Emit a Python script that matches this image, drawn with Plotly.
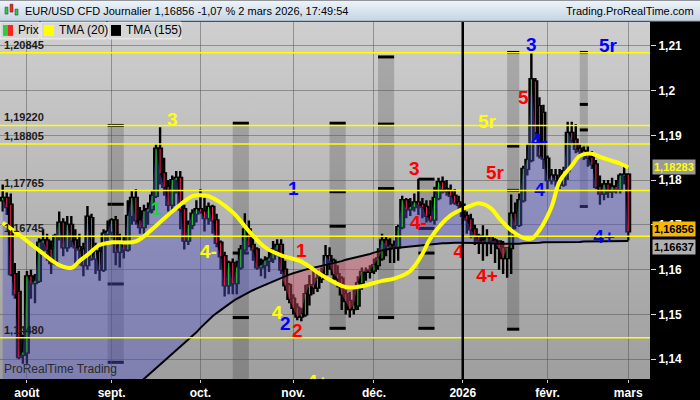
import base64
import numpy as np
import pandas as pd
import plotly.graph_objects as go

# daily sessions shown on the chart (no candle on 25 Dec and 1 Jan)
dates = [d.strftime("%Y-%m-%d") for d in pd.bdate_range("2025-07-24", "2026-03-02")
         if d.strftime("%m-%d") not in ("12-25", "01-01")]

opens = [
    1.1755, 1.1760, 1.1745, 1.1590, 1.1550, 1.1410,
    1.1415, 1.1585, 1.1570, 1.1575, 1.1660, 1.1665, 1.1645, 1.1615, 1.1675, 1.1705, 1.1650,
    1.1700, 1.1665, 1.1650, 1.1645, 1.1610, 1.1715, 1.1625, 1.1640, 1.1600, 1.1680,
    1.1685, 1.1710, 1.1640, 1.1660, 1.1645, 1.1720, 1.1760, 1.1710, 1.1695, 1.1730, 1.1735,
    1.1765, 1.1870, 1.1815, 1.1785, 1.1745, 1.1800, 1.1805, 1.1735, 1.1665, 1.1700, 1.1725,
    1.1735, 1.1730, 1.1715, 1.1740, 1.1710, 1.1660, 1.1630, 1.1565, 1.1615, 1.1570, 1.1605,
    1.1645, 1.1690, 1.1655, 1.1645, 1.1605, 1.1610, 1.1620, 1.1625, 1.1645, 1.1655, 1.1600, 1.1565,
    1.1535, 1.1515, 1.1495, 1.1500, 1.1545, 1.1565, 1.1560, 1.1580, 1.1590, 1.1630,
    1.1620, 1.1590, 1.1580, 1.1545, 1.1530, 1.1512, 1.1520, 1.1570, 1.1595, 1.1595,
    1.1598, 1.1610, 1.1625, 1.1665, 1.1655, 1.1652, 1.1650, 1.1695, 1.1755, 1.1735, 1.1740,
    1.1750, 1.1745, 1.1740, 1.1720, 1.1712, 1.1760, 1.1795, 1.1780, 1.1775, 1.1765, 1.1750,
    1.1745, 1.1720, 1.1712, 1.1690, 1.1675, 1.1665, 1.1662, 1.1672, 1.1665, 1.1663, 1.1648,
    1.1626, 1.1648, 1.1725, 1.1700, 1.1755, 1.1825, 1.1845, 1.2020, 1.1965, 1.1950,
    1.1848, 1.1800, 1.1810, 1.1800, 1.1790, 1.1820, 1.1905, 1.1890, 1.1870, 1.1865,
    1.1860, 1.1850, 1.1835, 1.1785, 1.1770, 1.1790, 1.1775, 1.1785, 1.1780, 1.1810,
    1.1812,
]
highs = [
    1.1790, 1.1772, 1.1770, 1.1615, 1.1597, 1.1455,
    1.1597, 1.1600, 1.1590, 1.1670, 1.1690, 1.1680, 1.1665, 1.1680, 1.1730, 1.1715, 1.1720,
    1.1720, 1.1690, 1.1680, 1.1660, 1.1742, 1.1725, 1.1660, 1.1655, 1.1690, 1.1710,
    1.1715, 1.1720, 1.1680, 1.1675, 1.1755, 1.1777, 1.1780, 1.1740, 1.1745, 1.1750, 1.1775,
    1.1880, 1.1918, 1.1850, 1.1800, 1.1810, 1.1820, 1.1820, 1.1745, 1.1710, 1.1735, 1.1755,
    1.1780, 1.1760, 1.1750, 1.1745, 1.1725, 1.1665, 1.1640, 1.1620, 1.1625, 1.1620, 1.1655,
    1.1726, 1.1710, 1.1670, 1.1650, 1.1625, 1.1630, 1.1640, 1.1664, 1.1668, 1.1668, 1.1620, 1.1570,
    1.1545, 1.1525, 1.1515, 1.1566, 1.1588, 1.1597, 1.1600, 1.1605, 1.1655, 1.1650,
    1.1625, 1.1610, 1.1585, 1.1555, 1.1550, 1.1560, 1.1585, 1.1605, 1.1605, 1.1610,
    1.1625, 1.1648, 1.1680, 1.1675, 1.1670, 1.1665, 1.1700, 1.1765, 1.1760, 1.1760, 1.1770,
    1.1803, 1.1760, 1.1755, 1.1755, 1.1785, 1.1805, 1.1808, 1.1800, 1.1790, 1.1780, 1.1765,
    1.1748, 1.1730, 1.1725, 1.1700, 1.1680, 1.1699, 1.1690, 1.1675, 1.1670, 1.1665, 1.1664,
    1.1650, 1.1768, 1.1750, 1.1770, 1.1832, 1.1880, 1.2085, 1.2028, 1.1985, 1.1968,
    1.1855, 1.1825, 1.1825, 1.1825, 1.1830, 1.1930, 1.1930, 1.1925, 1.1880, 1.1875,
    1.1875, 1.1865, 1.1845, 1.1810, 1.1800, 1.1800, 1.1805, 1.1800, 1.1815, 1.1832,
    1.1815,
]
lows = [
    1.1730, 1.1722, 1.1585, 1.1535, 1.1400, 1.1390,
    1.1390, 1.1535, 1.1525, 1.1570, 1.1635, 1.1620, 1.1590, 1.1610, 1.1665, 1.1630, 1.1640,
    1.1650, 1.1610, 1.1610, 1.1585, 1.1600, 1.1620, 1.1590, 1.1575, 1.1595, 1.1660,
    1.1670, 1.1610, 1.1605, 1.1625, 1.1640, 1.1700, 1.1700, 1.1680, 1.1680, 1.1700, 1.1725,
    1.1760, 1.1790, 1.1765, 1.1730, 1.1730, 1.1770, 1.1690, 1.1645, 1.1655, 1.1690, 1.1705,
    1.1725, 1.1685, 1.1700, 1.1680, 1.1650, 1.1600, 1.1540, 1.1545, 1.1545, 1.1545, 1.1600,
    1.1640, 1.1650, 1.1620, 1.1600, 1.1585, 1.1580, 1.1595, 1.1615, 1.1630, 1.1590, 1.1553, 1.1525,
    1.1500, 1.1487, 1.1485, 1.1495, 1.1520, 1.1545, 1.1550, 1.1570, 1.1585, 1.1600,
    1.1575, 1.1560, 1.1510, 1.1500, 1.1493, 1.1500, 1.1510, 1.1555, 1.1575, 1.1580,
    1.1590, 1.1600, 1.1620, 1.1630, 1.1615, 1.1615, 1.1620, 1.1690, 1.1715, 1.1720, 1.1730,
    1.1722, 1.1715, 1.1705, 1.1705, 1.1700, 1.1755, 1.1770, 1.1765, 1.1745, 1.1745, 1.1730,
    1.1700, 1.1680, 1.1670, 1.1655, 1.1635, 1.1620, 1.1630, 1.1635, 1.1615, 1.1600, 1.1590,
    1.1582, 1.1590, 1.1690, 1.1695, 1.1750, 1.1810, 1.1840, 1.1890, 1.1848, 1.1825,
    1.1780, 1.1790, 1.1785, 1.1780, 1.1785, 1.1800, 1.1880, 1.1860, 1.1850, 1.1845,
    1.1830, 1.1825, 1.1780, 1.1745, 1.1755, 1.1760, 1.1760, 1.1770, 1.1770, 1.1790,
    1.1665,
]
closes = [
    1.1760, 1.1740, 1.1590, 1.1545, 1.1405, 1.1415,
    1.1585, 1.1570, 1.1575, 1.1660, 1.1665, 1.1645, 1.1615, 1.1675, 1.1705, 1.1650, 1.1700,
    1.1665, 1.1650, 1.1645, 1.1610, 1.1718, 1.1625, 1.1640, 1.1600, 1.1680, 1.1685,
    1.1710, 1.1640, 1.1660, 1.1645, 1.1720, 1.1760, 1.1710, 1.1695, 1.1730, 1.1735, 1.1765,
    1.1870, 1.1815, 1.1785, 1.1745, 1.1800, 1.1805, 1.1735, 1.1665, 1.1700, 1.1725, 1.1735,
    1.1730, 1.1715, 1.1740, 1.1710, 1.1660, 1.1630, 1.1565, 1.1615, 1.1570, 1.1605, 1.1645,
    1.1690, 1.1655, 1.1645, 1.1605, 1.1610, 1.1620, 1.1625, 1.1645, 1.1655, 1.1600, 1.1565, 1.1535,
    1.1515, 1.1495, 1.1500, 1.1545, 1.1565, 1.1560, 1.1580, 1.1590, 1.1630, 1.1620,
    1.1590, 1.1580, 1.1545, 1.1530, 1.1512, 1.1520, 1.1570, 1.1595, 1.1595, 1.1598,
    1.1610, 1.1625, 1.1665, 1.1655, 1.1652, 1.1650, 1.1695, 1.1755, 1.1735, 1.1740, 1.1750,
    1.1745, 1.1740, 1.1720, 1.1712, 1.1760, 1.1795, 1.1780, 1.1775, 1.1765, 1.1750, 1.1745,
    1.1720, 1.1712, 1.1690, 1.1675, 1.1665, 1.1662, 1.1672, 1.1665, 1.1663, 1.1648, 1.1626,
    1.1648, 1.1725, 1.1700, 1.1755, 1.1825, 1.1845, 1.2025, 1.1907, 1.1855, 1.1848,
    1.1800, 1.1810, 1.1800, 1.1790, 1.1820, 1.1905, 1.1890, 1.1870, 1.1865, 1.1860,
    1.1850, 1.1835, 1.1785, 1.1770, 1.1790, 1.1775, 1.1785, 1.1780, 1.1810, 1.1812,
    1.16856,
]

# TMA (155), one value per session (left part runs below the visible scale)
tma155 = [
    1.1076, 1.1084, 1.1092, 1.1100, 1.1108, 1.1116,
    1.1124, 1.1132, 1.1140, 1.1148, 1.1156, 1.1164, 1.1172, 1.1180, 1.1188, 1.1196, 1.1204,
    1.1212, 1.1220, 1.1228, 1.1236, 1.1244, 1.1252, 1.1260, 1.1268, 1.1276, 1.1284,
    1.1292, 1.1300, 1.1308, 1.1316, 1.1324, 1.1332, 1.1340, 1.1348, 1.1356, 1.1364, 1.1372,
    1.1380, 1.1388, 1.1396, 1.1404, 1.1411, 1.1419, 1.1427, 1.1435, 1.1442, 1.1452, 1.1460,
    1.1470, 1.1479, 1.1488, 1.1496, 1.1503, 1.1510, 1.1517, 1.1523, 1.1529, 1.1535, 1.1540,
    1.1545, 1.1549, 1.1554, 1.1558, 1.1562, 1.1566, 1.1570, 1.1574, 1.1578, 1.1582, 1.1586, 1.1589,
    1.1592, 1.1595, 1.1597, 1.1600, 1.1602, 1.1604, 1.1606, 1.1608, 1.1611, 1.1613,
    1.1615, 1.1617, 1.1619, 1.1622, 1.1624, 1.1626, 1.1628, 1.1630, 1.1633, 1.1635,
    1.1638, 1.1641, 1.1643, 1.1645, 1.1647, 1.1648, 1.1649, 1.1650, 1.1651, 1.1652, 1.1653,
    1.1654, 1.1655, 1.1656, 1.1657, 1.1658, 1.1658, 1.1659, 1.1659, 1.1660, 1.1660, 1.1660,
    1.1660, 1.1660, 1.1660, 1.1660, 1.1660, 1.1659, 1.1659, 1.1659, 1.1658, 1.1658, 1.1657,
    1.1657, 1.1657, 1.1658, 1.1658, 1.1659, 1.1659, 1.1660, 1.1660, 1.1660, 1.1661,
    1.1661, 1.1661, 1.1661, 1.1661, 1.1662, 1.1662, 1.1662, 1.1662, 1.1662, 1.1663,
    1.1663, 1.1663, 1.1663, 1.1663, 1.1663, 1.1664, 1.1664, 1.1664, 1.1664, 1.1664,
    1.16637,
]

# TMA (20), read at a subset of sessions
tma20_dates = [
    "2025-07-24", "2025-07-30", "2025-08-06", "2025-08-13", "2025-08-18", "2025-08-20",
    "2025-08-22", "2025-08-27", "2025-09-01", "2025-09-03", "2025-09-09", "2025-09-15",
    "2025-09-22", "2025-09-29", "2025-10-01", "2025-10-03", "2025-10-13", "2025-10-17",
    "2025-10-23", "2025-10-29", "2025-11-05", "2025-11-12", "2025-11-19", "2025-11-21",
    "2025-11-26", "2025-12-03", "2025-12-08", "2025-12-12", "2025-12-17", "2025-12-19",
    "2025-12-29", "2026-01-06", "2026-01-08", "2026-01-13", "2026-01-15", "2026-01-20",
    "2026-01-23", "2026-01-27", "2026-01-29", "2026-02-03", "2026-02-05", "2026-02-10",
    "2026-02-12", "2026-02-17", "2026-02-19", "2026-02-24", "2026-02-26", "2026-03-02",
]
tma20_values = [
    1.1705, 1.1678, 1.1643, 1.1610, 1.1604, 1.1619, 1.1633, 1.1655, 1.1661, 1.1661, 1.1663, 1.1690,
    1.1730, 1.1764, 1.1766, 1.1764, 1.1728, 1.1686, 1.1650, 1.1632, 1.1618, 1.1588, 1.1564, 1.1560,
    1.1563, 1.1575, 1.1580, 1.1597, 1.1635, 1.1670, 1.1721, 1.1743, 1.1748, 1.1737, 1.1715, 1.1688,
    1.1671, 1.1669, 1.1688, 1.1740, 1.1797, 1.1832, 1.1854, 1.1859, 1.1852, 1.1843, 1.1837, 1.18283,
]

levels = [1.20845, 1.19220, 1.18805, 1.17765, 1.16745, 1.14480]

# grey zones: first/last session, low, high and the marks inside
band_start = ["2025-08-29", "2025-10-13", "2025-11-14", "2025-12-02", "2025-12-16", "2026-01-19", "2026-02-12"]
band_end = ["2025-09-04", "2025-10-17", "2025-11-20", "2025-12-08", "2025-12-22", "2026-01-22", "2026-02-16"]
band_low = [1.1393, 1.1300, 1.1469, 1.1493, 1.1469, 1.1467, 1.1741]
band_high = [1.1922, 1.1927, 1.1927, 1.2075, 1.1802, 1.2085, 1.2085]
band_marks = [
    [1.1922, 1.1746, 1.1568, 1.1393],
    [1.1927, 1.1637, 1.1493],
    [1.1927, 1.1774, 1.1697, 1.1469],
    [1.2075, 1.1925, 1.1781, 1.1493],
    [1.1802, 1.1692, 1.1637, 1.1582, 1.1469],
    [1.2085, 1.1876, 1.1777, 1.1467],
    [1.2085, 1.1969, 1.1912, 1.1741],
]

label_dates = ["2025-09-22", "2025-09-16", "2025-10-03", "2025-11-03", "2025-11-05", "2025-10-28",
               "2025-10-30", "2025-11-04", "2025-11-11", "2025-12-15", "2025-12-16", "2025-12-31",
               "2026-01-12", "2026-01-12", "2026-01-14", "2026-01-27", "2026-01-23", "2026-01-29",
               "2026-01-29", "2026-02-23", "2026-02-20"]
label_prices = [1.1931, 1.1732, 1.1637, 1.1777, 1.1639, 1.1500, 1.1475, 1.1460, 1.1347, 1.1821,
                1.1701, 1.1637, 1.1582, 1.1927, 1.1814, 1.2098, 1.1980, 1.1885, 1.1774, 1.2096, 1.1670]
label_texts = ["3", "1", "4-", "1", "1", "4", "2", "2", "4+", "3", "4-", "4", "4+", "5r", "5r",
               "3", "5", "4-", "4", "5r", "4+"]
label_kinds = ["y", "g", "y", "b", "r", "y", "b", "r", "y", "r", "r", "r", "r", "y", "r",
               "b", "r", "b", "b", "b", "b"]

month_starts = ["2025-08-01", "2025-09-01", "2025-10-01", "2025-11-03", "2025-12-01",
                "2026-01-02", "2026-02-02", "2026-03-02"]
month_labels = ["août", "sept.", "oct.", "nov.", "déc.", "2026", "févr.", "mars"]
year_start = "2026-01-02"

assert len(dates) == len(opens) == len(highs) == len(lows) == len(closes) == len(tma155)
assert len(tma20_dates) == len(tma20_values)

FONT = "Liberation Sans"
W, H, TOP, RIGHT = 700, 400, 22, 50
PW, PH = W - RIGHT, H - TOP - 18
kind_color = {"y": "#ffff00", "g": "#1ed43c", "b": "#0000ff", "r": "#ff0000"}
pos = {d: i for i, d in enumerate(dates)}


def fr(v):
    return f"{v:.5f}".replace(".", ",")


def px_x(px):
    return px / PW


def px_y(py):
    return 1 - (py - TOP) / PH


def svg_grad(top, bottom):
    svg = ('<svg xmlns="http://www.w3.org/2000/svg" width="10" height="100" viewBox="0 0 10 100" '
           'preserveAspectRatio="none"><defs><linearGradient id="g" x1="0" y1="0" x2="0" y2="1">'
           f'<stop offset="0" stop-color="{top}"/><stop offset="1" stop-color="{bottom}"/>'
           '</linearGradient></defs><rect width="10" height="100" fill="url(#g)"/></svg>')
    return "data:image/svg+xml;base64," + base64.b64encode(svg.encode()).decode()


c = np.array(closes)
t = np.array(tma155)

fig = go.Figure()
# area between close and TMA(155): blue above, pink below
fig.add_trace(go.Scatter(x=dates, y=tma155, mode="lines", line=dict(width=0), hoverinfo="skip"))
fig.add_trace(go.Scatter(x=dates, y=np.maximum(c, t), mode="lines", line=dict(width=0),
                         fill="tonexty", fillcolor="rgba(85,85,200,0.42)", hoverinfo="skip"))
fig.add_trace(go.Scatter(x=dates, y=tma155, mode="lines", line=dict(width=0), hoverinfo="skip"))
fig.add_trace(go.Scatter(x=dates, y=np.minimum(c, t), mode="lines", line=dict(width=0),
                         fill="tonexty", fillcolor="rgba(215,80,105,0.42)", hoverinfo="skip"))

fig.add_trace(go.Candlestick(
    x=dates, open=opens, high=highs, low=lows, close=closes,
    increasing=dict(line=dict(color="black", width=2.4), fillcolor="black"),
    decreasing=dict(line=dict(color="black", width=2.4), fillcolor="black"),
    hoverinfo="skip",
))

up_x, up_y, dn_x, dn_y = [], [], [], []
for d, o, cl in zip(dates, opens, closes):
    if cl >= o:
        up_x += [d, d, None]
        up_y += [o, cl, None]
    else:
        dn_x += [d, d, None]
        dn_y += [o, cl, None]
fig.add_trace(go.Scatter(x=up_x, y=up_y, mode="lines", line=dict(color="#2bd42b", width=1), hoverinfo="skip"))
fig.add_trace(go.Scatter(x=dn_x, y=dn_y, mode="lines", line=dict(color="#ff2650", width=1), hoverinfo="skip"))

fig.add_trace(go.Scatter(x=dates, y=tma155, mode="lines", line=dict(color="black", width=2)))
fig.add_trace(go.Scatter(x=tma20_dates, y=tma20_values, mode="lines",
                         line=dict(color="#ffff00", width=4, shape="spline")))

fig.add_trace(go.Scatter(
    x=label_dates, y=label_prices, mode="text", text=label_texts,
    textfont=dict(family=FONT, size=19, weight="bold", color=[kind_color[k] for k in label_kinds]),
    hoverinfo="skip",
))

shapes = []
for s, e, lo, hi, marks in zip(band_start, band_end, band_low, band_high, band_marks):
    shapes.append(dict(type="rect", xref="x", yref="y", x0=pos[s], x1=pos[e], y0=lo, y1=hi,
                       fillcolor="rgba(0,0,0,0.17)", line=dict(width=0), layer="below"))
    for m in marks:
        shapes.append(dict(type="line", xref="x", yref="y", x0=pos[s], x1=pos[e], y0=m, y1=m,
                           line=dict(color="black", width=3), layer="below"))
for lv in levels:
    shapes.append(dict(type="line", xref="paper", yref="y", x0=0, x1=1, y0=lv, y1=lv,
                       line=dict(color="#ffff00", width=1.5), layer="above"))
shapes.append(dict(type="line", xref="x", yref="paper", x0=pos[year_start], x1=pos[year_start],
                   y0=0, y1=1, line=dict(color="black", width=2.5), layer="above"))

# legend boxes with their colour swatches
legend_boxes = [(0, 39, "Prix", [("#2ecc40", 3, 8), ("#ff2020", 8, 13)]),
                (41, 106, "TMA (20)", [("#ffff00", 44, 54)]),
                (108, 181, "TMA (155)", [("#000000", 111, 121)])]
annotations = []
for x0, x1, name, swatches in legend_boxes:
    shapes.append(dict(type="rect", xref="paper", yref="paper", x0=px_x(x0), x1=px_x(x1),
                       y0=px_y(39), y1=px_y(22), fillcolor="#d6d6d6",
                       line=dict(color="#f2f2f2", width=1), layer="above"))
    for col, s0, s1 in swatches:
        shapes.append(dict(type="rect", xref="paper", yref="paper", x0=px_x(s0), x1=px_x(s1),
                           y0=px_y(36), y1=px_y(25), fillcolor=col, line=dict(width=0), layer="above"))
    annotations.append(dict(xref="paper", yref="paper", x=px_x(swatches[-1][2] + 3), y=px_y(30.5),
                            xanchor="left", yanchor="middle", text=name, showarrow=False,
                            font=dict(family=FONT, size=12, color="black")))

for lv in levels:
    annotations.append(dict(xref="paper", yref="y", x=0, y=lv, xanchor="left", yanchor="bottom",
                            xshift=2, yshift=0, text=fr(lv), showarrow=False,
                            font=dict(family=FONT, size=11, color="#1c1c1c", weight="bold")))

# header bar
shapes.append(dict(type="line", xref="paper", yref="paper", x0=0, x1=W / PW, y0=px_y(21), y1=px_y(21),
                   line=dict(color="#8da2b6", width=1), layer="above"))
annotations.append(dict(xref="paper", yref="paper", x=px_x(23), y=px_y(10.5), xanchor="left", yanchor="middle",
                        text="EUR/USD CFD Journalier 1,16856 -1,07 % 2 mars 2026, 17:49:54",
                        showarrow=False, font=dict(family=FONT, size=11, color="black")))
annotations.append(dict(xref="paper", yref="paper", x=px_x(696), y=px_y(10.5), xanchor="right",
                        yanchor="middle", text="Trading.ProRealTime.com", showarrow=False,
                        font=dict(family=FONT, size=11, color="black")))
# small candle icon of the header
for col, a, b, lo_, hi_ in [("#2ecc40", 5, 8, 14, 7), ("#ff2020", 10, 13, 12, 4), ("#2ecc40", 15, 18, 15, 9)]:
    shapes.append(dict(type="rect", xref="paper", yref="paper", x0=px_x(a), x1=px_x(b),
                       y0=px_y(lo_), y1=px_y(hi_), fillcolor=col, line=dict(color="#333", width=0.5),
                       layer="above"))

annotations.append(dict(xref="paper", yref="paper", x=0, y=0, xanchor="left", yanchor="bottom",
                        xshift=2, yshift=1, text="ProRealTime Trading", showarrow=False,
                        font=dict(family=FONT, size=12, color="#2a2a2a")))

# value boxes on the price scale
for val, fg, bg, ys in [(tma20_values[-1], "#ffff00", "#9a9a9a", 0),
                        (closes[-1], "black", "#f6b800", 2),
                        (tma155[-1], "black", "#b0b0b0", -6)]:
    annotations.append(dict(xref="paper", yref="y", x=1, y=val, xanchor="left", yanchor="middle",
                            xshift=2, yshift=ys, text=fr(val), showarrow=False, bgcolor=bg,
                            borderpad=1, font=dict(family=FONT, size=11, color=fg, weight="bold")))

fig.update_layout(
    width=W, height=H,
    margin=dict(l=0, r=RIGHT, t=TOP, b=18),
    paper_bgcolor="black", plot_bgcolor="#b8b8b8",
    showlegend=False, separators=", ",
    boxgap=0.1, boxgroupgap=0,
    shapes=shapes, annotations=annotations,
    images=[
        dict(source=svg_grad("#cfcfcf", "#9e9e9e"), xref="paper", yref="paper", x=0, y=1,
             sizex=1, sizey=1, sizing="stretch", xanchor="left", yanchor="top", layer="below"),
        dict(source=svg_grad("#eef4fa", "#c6d4e2"), xref="paper", yref="paper", x=0, y=px_y(0),
             sizex=W / PW, sizey=21 / PH, sizing="stretch", xanchor="left", yanchor="top", layer="above"),
    ],
    xaxis=dict(
        type="category", range=[-0.67, 160.4], tickvals=month_starts, ticktext=month_labels,
        showgrid=True, gridcolor="rgba(70,70,70,0.45)", gridwidth=1,
        ticks="outside", ticklen=3, tickcolor="#cccccc",
        tickfont=dict(family=FONT, size=12, color="white", weight="bold"),
        rangeslider=dict(visible=False), showline=False, zeroline=False,
    ),
    yaxis=dict(
        side="right", range=[1.13558, 1.2153], dtick=0.01, tick0=1.14,
        showgrid=True, gridcolor="rgba(70,70,70,0.45)", gridwidth=1,
        ticks="outside", ticklen=5, tickcolor="#dddddd",
        tickfont=dict(family=FONT, size=12, color="white", weight="bold"),
        showline=False, zeroline=False,
    ),
)

# the page has the default 8px body margin; drop it so the chart sits at the corner
fig.write_html("out.html", config={"displayModeBar": False},
               post_script="document.body.style.margin='0px';")
